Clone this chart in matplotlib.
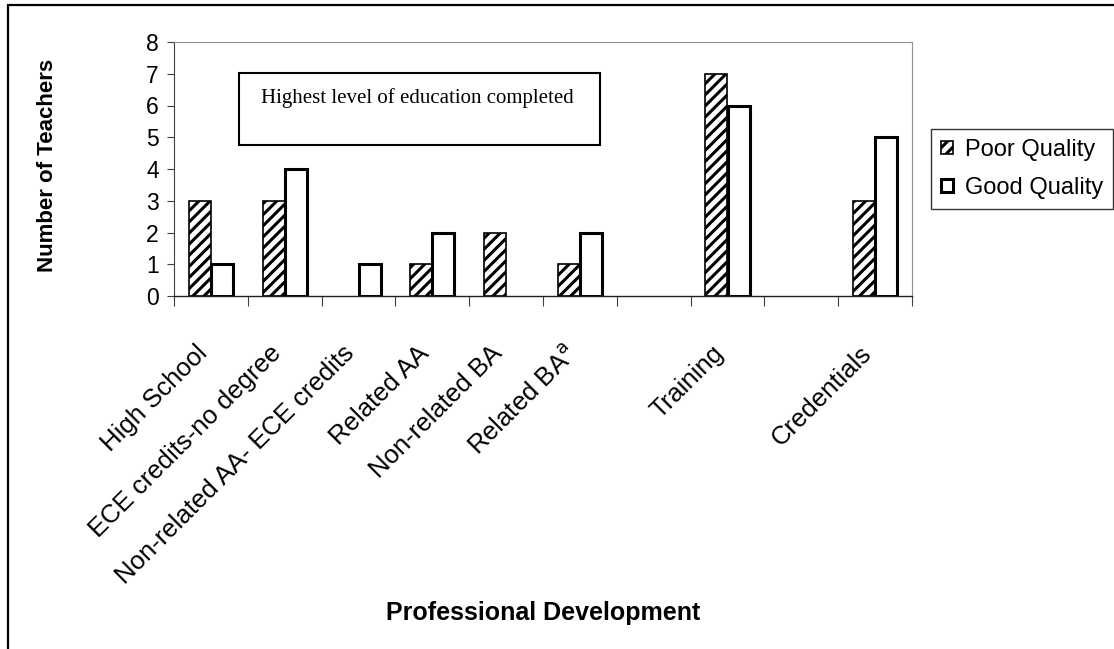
import numpy as np
import matplotlib.pyplot as plt
from matplotlib.patches import Rectangle
from matplotlib.transforms import ScaledTranslation

# data
categories = ["High School", "ECE credits-no degree", "Non-related AA- ECE credits",
              "Related AA", "Non-related BA", "Related BA$^{\\mathrm{a}}$", "",
              "Training", "", "Credentials"]
poor_quality = [3, 3, 0, 1, 2, 1, 0, 7, 0, 3]
good_quality = [1, 4, 1, 2, 0, 2, 0, 6, 0, 5]

plt.rcParams['font.family'] = ['Liberation Sans', 'DejaVu Sans']
plt.rcParams['hatch.linewidth'] = 2.2

fig = plt.figure(figsize=(11.14, 6.49), dpi=100)
ax = fig.add_axes([174/1114, 1 - 296/649, (912-174)/1114, (296-42)/649])

x = np.arange(len(categories))
w = 0.3
poor = np.array(poor_quality, dtype=float)
good = np.array(good_quality, dtype=float)
# Excel draws nothing for zero values
mp = poor > 0
mg = good > 0
ax.bar(x[mp] - w/2, poor[mp], w, color='white', edgecolor='black', hatch='///',
       linewidth=1.2, label='Poor Quality')
ax.bar(x[mg] + w/2, good[mg], w, color='white', edgecolor='black',
       linewidth=2.2, label='Good Quality')

ax.set_xlim(-0.5, len(categories) - 0.5)
ax.set_ylim(0, 8)
ax.set_yticks(range(9))
ax.tick_params(axis='y', labelsize=16.5, length=5, direction='out', color='#404040', pad=6)

# ticks between categories, labels drawn separately at the centres
ax.set_xticks(np.arange(len(categories) + 1) - 0.5)
ax.set_xticklabels([])
ax.tick_params(axis='x', which='major', length=7, color='#404040')
lab_trans = ax.get_xaxis_transform() + ScaledTranslation(-0.16, -0.45, fig.dpi_scale_trans)
for xi, lab in zip(x, categories):
    ax.text(xi, 0, lab, transform=lab_trans, rotation=45, rotation_mode='anchor',
            ha='right', va='top', fontsize=18.5)

for s in ['top', 'right']:
    ax.spines[s].set_color('#909090')
ax.spines['left'].set_color('#404040')
ax.spines['bottom'].set_color('#202020')
ax.spines['bottom'].set_linewidth(1.0)

fig.text(48/1114, 1 - 165/649, 'Number of Teachers', fontsize=16, fontweight='bold',
         rotation=90, ha='center', va='center')
fig.text(543/1114, 1 - 613/649, 'Professional Development', fontsize=18,
         fontweight='bold', ha='center', va='center')

# annotation box
ax.text((261-174)/738, 1 - (103-42)/254, 'Highest level of education completed',
        transform=ax.transAxes, fontsize=15, family='Liberation Serif', va='baseline')
ax.add_patch(Rectangle(((239-174)/738, 1 - (145-42)/254), (600-239)/738, (145-73)/254,
                       transform=ax.transAxes, fill=False, edgecolor='black', linewidth=1.5,
                       clip_on=False))

leg = fig.legend(loc='upper left', bbox_to_anchor=(931/1114, 1 - 129/649),
                 fontsize=17, frameon=True, fancybox=False, edgecolor='black',
                 handlelength=0.5, handleheight=0.5, handletextpad=0.5,
                 borderpad=0.42, labelspacing=0.68, borderaxespad=0)
leg.get_frame().set_linewidth(1.0)

# outer frame of the chart area
fig.patches.append(Rectangle((8/1114, -0.1), 1.2, 1 - 5/649 + 0.1, transform=fig.transFigure,
                             fill=False, edgecolor='black', linewidth=1.6))

fig.savefig('out.png', dpi=100)
